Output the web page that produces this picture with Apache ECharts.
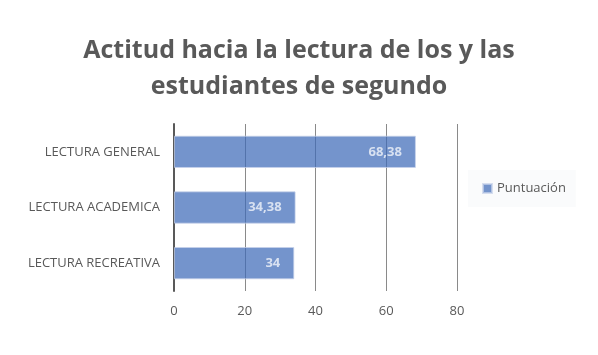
<!DOCTYPE html>
<html><head><meta charset="utf-8">
<script src="https://cdn.jsdelivr.net/npm/echarts@6/dist/echarts.min.js"></script>
<style>html,body{margin:0;padding:0;background:#fff}#c{width:598px;height:355px}</style>
</head><body><div id="c"></div>
<script>
var categories = ['LECTURA GENERAL', 'LECTURA ACADEMICA', 'LECTURA RECREATIVA'];
var values = [68.38, 34.38, 34];
var seriesName = 'Puntuación';
var titleText = 'Actitud hacia la lectura de los y las\nestudiantes de segundo';

var chart = echarts.init(document.getElementById('c'));
var font = '"Open Sans", "Noto Sans", sans-serif';
chart.setOption({
  animation: false,
  backgroundColor: '#ffffff',
  title: {
    text: titleText, left: 'center', top: 33, padding: 0,
    textStyle: { fontSize: 25, fontWeight: 'bold', color: '#595959', lineHeight: 36, fontFamily: font }
  },
  legend: {
    data: [seriesName], orient: 'vertical', left: 468, top: 170,
    padding: [12, 10, 12, 14], backgroundColor: 'rgba(242,244,246,0.35)',
    itemWidth: 9, itemHeight: 9, itemGap: 5, icon: 'rect',
    textStyle: { fontSize: 13, color: '#595959', fontFamily: font }
  },
  grid: { left: 174, right: 141, top: 124, bottom: 64, containLabel: false },
  xAxis: {
    type: 'value', min: 0, max: 80, interval: 20,
    axisLine: { show: false }, axisTick: { show: false },
    splitLine: { show: true, lineStyle: { color: '#8a8a8a', width: 1 } },
    axisLabel: { fontSize: 13, color: '#595959', margin: 14, fontFamily: font }
  },
  yAxis: {
    type: 'category', data: categories, inverse: true,
    axisLine: { show: true, lineStyle: { color: '#595959', width: 2 } },
    axisTick: { show: false },
    axisLabel: { fontSize: 13, color: '#595959', margin: 14, fontFamily: font }
  },
  series: [{
    name: seriesName, type: 'bar', data: values, barWidth: '58%',
    itemStyle: { color: '#3f6bb8', opacity: 0.72, borderColor: '#c7d3ea', borderWidth: 1 },
    label: {
      show: true, position: 'insideRight', distance: 14, color: '#ffffff', fontWeight: 'bold',
      fontSize: 13, fontFamily: font,
      formatter: function (p) { return String(p.value).replace('.', ','); }
    },
    z: 3
  }]
});
</script></body></html>
